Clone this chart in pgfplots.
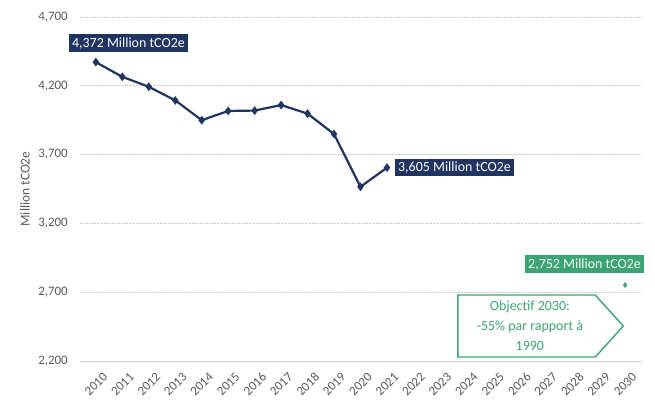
\documentclass[border=0pt]{standalone}
\usepackage{fontspec}
\setmainfont{Carlito}
\usepackage{pgfplots}
\pgfplotsset{compat=1.18}
\definecolor{navy}{RGB}{31,52,96}
\definecolor{objgreen}{RGB}{58,164,116}
\definecolor{ticktxt}{RGB}{89,89,89}
\definecolor{gridc}{RGB}{205,205,205}
\begin{document}
\begin{tikzpicture}
\path[use as bounding box] (-80bp,-40bp) rectangle (575bp,361bp);
\begin{axis}[
  at={(0,0)}, anchor=south west,
  scale only axis, width=561bp, height=344bp,
  xmin=2009.4, xmax=2030.6,
  ymin=2200, ymax=4700,
  ytick={2200,2700,3200,3700,4200,4700},
  xtick={2010,...,2030},
  xticklabels={2010,2011,2012,2013,2014,2015,2016,2017,2018,2019,2020,2021,2022,2023,2024,2025,2026,2027,2028,2029,2030},
  /pgf/number format/assume math mode=true,
  yticklabel={\pgfmathprintnumber[1000 sep={,}]{\tick}},
  major tick length=0pt,
  axis x line*=bottom,
  axis y line*=left,
  x axis line style={draw=gridc, line width=0.8bp},
  y axis line style={draw=none},
  ymajorgrids,
  grid style={densely dotted, draw=gridc, line width=0.8bp},
  tick label style={font=\fontsize{13}{15}\selectfont, text=ticktxt},
  xticklabel style={rotate=45, anchor=north east, inner sep=1bp, xshift=-2bp, yshift=-11bp},
  yticklabel style={anchor=east, inner sep=0bp, xshift=-12bp},
  clip=false,
]
\addplot[navy, line width=2.2bp, mark=diamond*, mark size=2.6bp, mark options={fill=navy, draw=navy}]
coordinates {
(2010,4372) (2011,4265) (2012,4193) (2013,4094) (2014,3950) (2015,4017)
(2016,4020) (2017,4060) (2018,3998) (2019,3849) (2020,3466) (2021,3605)
};
\addplot[only marks, mark=diamond*, mark size=2.6bp, color=objgreen]
coordinates {(2030,2752)};

\node[fill=navy, text=white, inner sep=3bp, anchor=south west, xshift=-27bp, yshift=10bp,
  font=\fontsize{14}{16}\selectfont] at (axis cs:2010,4372) {4,372 Million tCO2e};
\node[fill=navy, text=white, inner sep=3bp, anchor=west, xshift=8bp,
  font=\fontsize{14}{16}\selectfont] at (axis cs:2021,3605) {3,605 Million tCO2e};
\node[fill=objgreen, text=white, inner sep=3bp, anchor=south east, xshift=19bp, yshift=12bp,
  font=\fontsize{14}{16}\selectfont] at (axis cs:2030,2752) {2,752 Million tCO2e};

\draw[objgreen, line width=1.4bp, fill=white]
  (axis cs:2023.68,2680) -- (axis cs:2028.87,2680) -- (axis cs:2029.93,2454)
  -- (axis cs:2028.87,2229) -- (axis cs:2023.68,2229) -- cycle;
\node[text=objgreen, align=center, font=\fontsize{14}{20}\selectfont]
  at (axis cs:2026.4,2454) {Objectif 2030:\\-55\% par rapport à\\1990};

\node[rotate=90, font=\fontsize{13.5}{15}\selectfont, text=ticktxt]
  at (axis description cs:-0.098,0.5) {Million tCO2e};
\end{axis}
\end{tikzpicture}
\end{document}
